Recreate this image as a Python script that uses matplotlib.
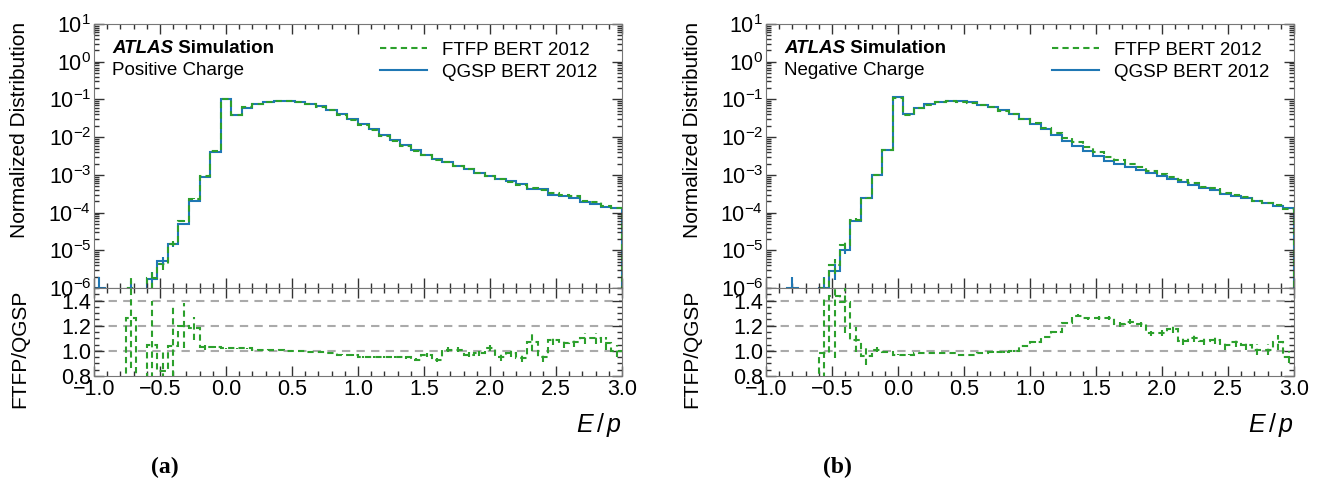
import numpy as np
import matplotlib
matplotlib.use("Agg")
import matplotlib.pyplot as plt
from matplotlib.ticker import (MultipleLocator, LogLocator, LogFormatterSciNotation,
                               NullFormatter, FormatStrFormatter)
from matplotlib.lines import Line2D

plt.rcParams["font.family"] = ["Liberation Sans", "DejaVu Sans"]
plt.rcParams["mathtext.fontset"] = "custom"
plt.rcParams["mathtext.rm"] = "Liberation Sans"
plt.rcParams["mathtext.it"] = "Liberation Sans:italic"
plt.rcParams["mathtext.bf"] = "Liberation Sans:bold"

# E/p binning: 50 bins from -1 to 3
edges = np.linspace(-1.0, 3.0, 51)

# QGSP BERT 2012, normalized distribution (0 = empty bin)
pos_qgsp = [1.0e-6, 0, 0, 8.0e-7, 0, 1.74e-6, 5.2e-6, 1.45e-5, 5.0e-5, 2.0e-4,
            9.0e-4, 4.1e-3, 1.0e-1, 3.8e-2, 6.0e-2, 7.4e-2, 8.5e-2, 9.0e-2, 9.2e-2, 8.7e-2,
            7.7e-2, 6.5e-2, 5.2e-2, 4.1e-2, 3.0e-2, 2.24e-2, 1.63e-2, 1.15e-2, 8.3e-3, 6.2e-3,
            4.6e-3, 3.4e-3, 2.6e-3, 2.15e-3, 1.73e-3, 1.44e-3, 1.15e-3, 9.4e-4, 8.0e-4, 6.7e-4,
            5.6e-4, 4.2e-4, 4.2e-4, 3.0e-4, 2.7e-4, 2.5e-4, 1.9e-4, 1.73e-4, 1.41e-4, 1.33e-4]
neg_qgsp = [0, 0, 1.0e-6, 0, 0, 1.0e-6, 2.9e-6, 1.0e-5, 6.0e-5, 2.5e-4,
            9.8e-4, 4.6e-3, 1.15e-1, 4.0e-2, 6.0e-2, 7.4e-2, 8.5e-2, 9.0e-2, 9.0e-2, 8.5e-2,
            7.1e-2, 6.3e-2, 5.1e-2, 4.0e-2, 3.0e-2, 2.2e-2, 1.6e-2, 1.12e-2, 8.0e-3, 5.9e-3,
            4.3e-3, 3.2e-3, 2.4e-3, 2.0e-3, 1.6e-3, 1.35e-3, 1.1e-3, 9.2e-4, 7.7e-4, 6.6e-4,
            5.5e-4, 4.5e-4, 4.0e-4, 3.2e-4, 2.8e-4, 2.4e-4, 2.0e-4, 1.75e-4, 1.5e-4, 1.35e-4]

# relative statistical uncertainty of the histograms (only visible at low E/p)
pos_relerr = [0.9, 0, 0, 0.9, 0, 0.5, 0.3, 0.15, 0.08, 0.04] + [0.0] * 40
neg_relerr = [0, 0, 0.9, 0, 0, 0.9, 0.45, 0.2, 0.08, 0.04] + [0.0] * 40

# FTFP / QGSP ratio
pos_ratio = [0, 0, 0, 1.26, 0, 1.05, 0.84, 1.04, 1.20, 1.18,
             1.03, 1.03, 1.02, 1.02, 1.02, 1.01, 1.01, 1.01, 1.00, 1.00,
             0.99, 0.99, 0.98, 0.97, 0.97, 0.95, 0.95, 0.95, 0.95, 0.95,
             0.93, 0.97, 0.93, 1.01, 1.01, 0.97, 0.98, 1.02, 0.95, 0.98,
             0.94, 1.07, 0.95, 1.09, 1.06, 1.07, 1.10, 1.10, 1.06, 1.00]
neg_ratio = [0, 0, 0, 0, 0, 0.98, 1.44, 1.39, 1.09, 0.96,
             1.01, 0.99, 0.97, 0.97, 0.98, 0.98, 0.98, 0.98, 0.97, 0.97,
             0.98, 0.99, 0.99, 1.00, 1.04, 1.07, 1.11, 1.15, 1.22, 1.28,
             1.26, 1.26, 1.26, 1.21, 1.23, 1.21, 1.14, 1.14, 1.17, 1.08,
             1.10, 1.08, 1.09, 1.05, 1.07, 1.05, 1.01, 1.01, 1.07, 0.95]
pos_ratio_err = [0, 0, 0, 0.40, 0, 0.35, 0.15, 0.33, 0.18, 0.09,
                 0.02, 0.01, 0.005, 0.005, 0.005, 0.005, 0.005, 0.005, 0.005, 0.005,
                 0.005, 0.005, 0.005, 0.006, 0.007, 0.008, 0.009, 0.01, 0.01, 0.012,
                 0.013, 0.015, 0.016, 0.018, 0.02, 0.02, 0.022, 0.025, 0.027, 0.03,
                 0.03, 0.07, 0.035, 0.04, 0.04, 0.04, 0.045, 0.045, 0.05, 0.05]
neg_ratio_err = [0, 0, 0, 0, 0, 0.45, 0.5, 0.25, 0.1, 0.07,
                 0.02, 0.01, 0.005, 0.005, 0.005, 0.005, 0.005, 0.005, 0.005, 0.005,
                 0.005, 0.005, 0.005, 0.006, 0.007, 0.008, 0.009, 0.01, 0.01, 0.012,
                 0.013, 0.015, 0.016, 0.018, 0.02, 0.02, 0.022, 0.025, 0.027, 0.03,
                 0.03, 0.035, 0.035, 0.04, 0.04, 0.04, 0.045, 0.045, 0.06, 0.05]

BLUE = "#1f77b4"
GREEN = "#2ca02c"
DASH = (0, (3, 2))
FLOOR = 1e-9

fig = plt.figure(figsize=(13.2, 4.86), dpi=100)


def style_axes(ax):
    ax.tick_params(which="both", direction="in", top=True, right=True,
                   color="#333333", labelsize=15.5, pad=2)
    ax.tick_params(which="major", length=7, width=1)
    ax.tick_params(which="minor", length=3.5, width=1)
    ax.xaxis.set_major_locator(MultipleLocator(0.5))
    ax.xaxis.set_minor_locator(MultipleLocator(0.1))
    ax.set_xlim(-1.0, 3.0)
    for s in ax.spines.values():
        s.set_color("#777777")


def draw_panel(x0, qgsp, relerr, ratio, ratio_err, charge, tag):
    qgsp = np.array(qgsp, dtype=float)
    ratio = np.array(ratio, dtype=float)
    relerr = np.array(relerr, dtype=float)
    ratio_err = np.array(ratio_err, dtype=float)
    ftfp = qgsp * ratio
    centers = 0.5 * (edges[1:] + edges[:-1])

    ax = fig.add_axes([x0, 0.4074, 0.4, 0.5432])
    rax = fig.add_axes([x0, 0.2263, 0.4, 0.1811])

    # main panel
    ax.stairs(np.where(qgsp > 0, qgsp, FLOOR), edges, baseline=FLOOR,
              color=BLUE, lw=1.5)
    ax.stairs(np.where(ftfp > 0, ftfp, FLOOR), edges, baseline=FLOOR,
              color=GREEN, lw=1.5, ls=DASH)
    m = relerr > 0
    ax.errorbar(centers[m], qgsp[m], yerr=qgsp[m] * relerr[m], fmt="none",
                ecolor=BLUE, elinewidth=1.5)
    m2 = m & (ftfp > 0)
    eb = ax.errorbar(centers[m2], ftfp[m2], yerr=ftfp[m2] * relerr[m2], fmt="none",
                     ecolor=GREEN, elinewidth=1.5)
    for lc in eb.lines[2]:
        lc.set_linestyle(DASH)

    ax.set_yscale("log")
    ax.set_ylim(1e-6, 10)
    style_axes(ax)
    ax.yaxis.set_major_locator(LogLocator(base=10, numticks=20))
    ax.yaxis.set_minor_locator(LogLocator(base=10, subs=np.arange(2, 10), numticks=100))
    ax.yaxis.set_major_formatter(LogFormatterSciNotation())
    ax.yaxis.set_minor_formatter(NullFormatter())
    ax.tick_params(labelbottom=False)

    t = ax.text(0.034, 0.89, "ATLAS", transform=ax.transAxes, fontsize=13.5,
                fontweight="bold", fontstyle="italic", va="baseline")
    ax.annotate(" Simulation", xy=(1, 0), xycoords=t, fontsize=13.5,
                fontweight="bold", va="bottom")
    ax.text(0.034, 0.807, charge, transform=ax.transAxes, fontsize=13.5,
            va="baseline")

    handles = [Line2D([], [], color=GREEN, lw=1.5, ls=DASH),
               Line2D([], [], color=BLUE, lw=1.5)]
    ax.legend(handles, ["FTFP BERT 2012", "QGSP BERT 2012"], loc="upper right",
              bbox_to_anchor=(0.985, 0.997), frameon=False, fontsize=13.5,
              handlelength=2.5, handletextpad=0.8, labelspacing=0.25)

    # ratio panel
    for y in (1.0, 1.2, 1.4):
        rax.axhline(y, color="#aaaaaa", lw=1.5, ls=(0, (4, 3)), zorder=1)
    rax.stairs(ratio, edges, baseline=None, color=GREEN, lw=1.5, ls=DASH, zorder=3)
    m = ratio_err > 0
    eb = rax.errorbar(centers[m], ratio[m], yerr=ratio_err[m], fmt="none",
                      ecolor=GREEN, elinewidth=1.5, zorder=3)
    for lc in eb.lines[2]:
        lc.set_linestyle(DASH)
    rax.set_ylim(0.8, 1.5)
    style_axes(rax)
    rax.yaxis.set_major_locator(MultipleLocator(0.2))
    rax.yaxis.set_minor_locator(MultipleLocator(0.05))
    rax.yaxis.set_major_formatter(FormatStrFormatter("%.1f"))
    rax.set_yticks([0.8, 1.0, 1.2, 1.4])

    # axis labels
    fig.text(x0 - 74 / 1320, 0.955, "Normalized Distribution", rotation=90,
             ha="center", va="top", fontsize=15)
    fig.text(x0 - 74 / 1320, 0.405, "FTFP/QGSP", rotation=90,
             ha="center", va="top", fontsize=15)
    fig.text(x0 + 0.4, 1 - 425 / 486, "$E\\,/\\,p$", ha="right", va="center",
             fontsize=18)
    fig.text(x0 + 0.054, 1 - 467 / 486, tag, ha="center", va="center",
             fontsize=17, fontweight="bold", family="Liberation Serif")


draw_panel(94 / 1320, pos_qgsp, pos_relerr, pos_ratio, pos_ratio_err,
           "Positive Charge", "(a)")
draw_panel(766 / 1320, neg_qgsp, neg_relerr, neg_ratio, neg_ratio_err,
           "Negative Charge", "(b)")

fig.savefig("out.png", dpi=100)
